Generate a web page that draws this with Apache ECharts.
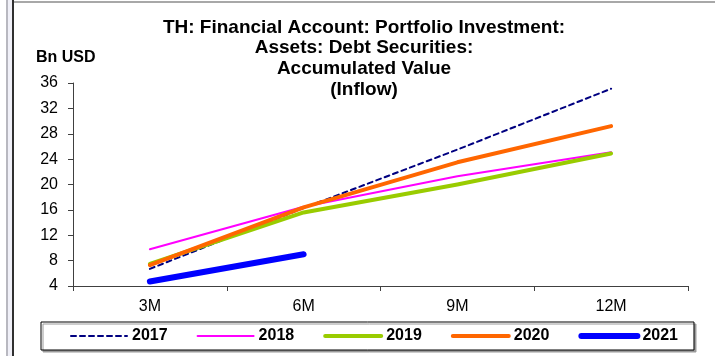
<!DOCTYPE html>
<html>
<head>
<meta charset="utf-8">
<script src="https://cdn.jsdelivr.net/npm/echarts@6/dist/echarts.min.js"></script>
<style>
  html, body { margin: 0; padding: 0; background: #fff; }
  #chart { width: 715px; height: 356px; }
</style>
</head>
<body>
<div id="chart"></div>
<script>
// Cumulative portfolio investment inflow (debt securities), by quarter-end month
const periods = ['3M', '6M', '9M', '12M'];
const y2017 = [6.7, 16.3, 25.5, 35.1];
const y2018 = [9.8, 16.5, 21.3, 25.1];
const y2019 = [7.5, 15.6, 20.0, 24.9];
const y2020 = [7.3, 16.4, 23.5, 29.2];
const y2021 = [4.7, 9.0];
const yTicks = { min: 4, max: 36, step: 4 };

const FONT = '"Liberation Sans", Arial, sans-serif';
const chart = echarts.init(document.getElementById('chart'));

function line(name, data, color, width, dashed) {
  return {
    name: name,
    type: 'line',
    data: data,
    symbol: 'none',
    smooth: false,
    lineStyle: { color: color, width: width, type: dashed ? [5, 4] : 'solid', cap: 'round', join: 'round' },
    itemStyle: { color: color },
    emphasis: { disabled: true },
    z: 3
  };
}

chart.setOption({
  animation: false,
  backgroundColor: '#fff',
  textStyle: { fontFamily: FONT },
  title: {
    text: 'TH: Financial Account: Portfolio Investment:\nAssets: Debt Securities:\nAccumulated Value\n(Inflow)',
    left: 364,
    top: 17,
    padding: 0,
    textAlign: 'center',
    textStyle: { fontFamily: FONT, fontSize: 19, fontWeight: 'bold', color: '#000', lineHeight: 20.7 }
  },
  grid: { left: 73, right: 27, top: 83, bottom: 70, containLabel: false },
  xAxis: {
    type: 'category',
    data: periods,
    boundaryGap: true,
    axisLine: { lineStyle: { color: '#404040', width: 1 } },
    axisTick: { show: true, length: 5, lineStyle: { color: '#404040' } },
    axisLabel: { color: '#000', fontSize: 16, fontFamily: FONT, margin: 13 },
    splitLine: { show: false }
  },
  yAxis: {
    type: 'value',
    min: yTicks.min,
    max: yTicks.max,
    interval: yTicks.step,
    axisLine: { show: true, lineStyle: { color: '#404040', width: 1 } },
    axisTick: { show: true, length: 5, lineStyle: { color: '#404040' } },
    axisLabel: { color: '#000', fontSize: 16, fontFamily: FONT, margin: 15 },
    splitLine: { show: false }
  },
  legend: {
    left: 41,
    top: 322,
    padding: [6, 16, 6, 29],
    itemWidth: 56,
    itemHeight: 12,
    itemGap: 29,
    borderColor: '#000',
    borderWidth: 1,
    backgroundColor: '#fff',
    shadowColor: '#9a9a9a',
    shadowBlur: 0,
    shadowOffsetX: 2,
    shadowOffsetY: 2,
    itemStyle: { opacity: 0 },
    lineStyle: { width: 'inherit', cap: 'round' },
    textStyle: { fontFamily: FONT, fontSize: 16, fontWeight: 'bold', color: '#000' },
    data: ['2017', '2018', '2019', '2020', '2021']
  },
  graphic: [
    { type: 'rect', shape: { x: 6, y: 0, width: 2, height: 356 }, style: { fill: '#b8b8c0' }, silent: true },
    { type: 'rect', shape: { x: 8, y: 0, width: 4, height: 356 }, style: { fill: '#f0f0f8' }, silent: true },
    { type: 'rect', shape: { x: 12, y: 0, width: 2, height: 356 }, style: { fill: '#303030' }, silent: true },
    { type: 'rect', shape: { x: 14, y: 1, width: 701, height: 2 }, style: { fill: '#a8a8a8' }, silent: true },
    { type: 'text', left: 36, top: 50, style: { text: 'Bn USD', fontFamily: FONT, fontSize: 16, fontWeight: 'bold', fill: '#000' }, silent: true }
  ],
  series: [
    line('2017', y2017, '#000080', 2, true),
    line('2018', y2018, '#ff00ff', 2, false),
    line('2019', y2019, '#99cc00', 4, false),
    line('2020', y2020, '#ff6600', 4, false),
    line('2021', y2021, '#0000ff', 6, false)
  ]
});
</script>
</body>
</html>
